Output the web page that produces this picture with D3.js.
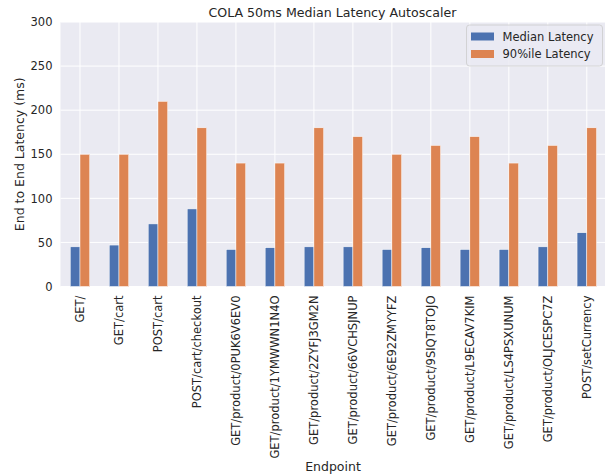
<!DOCTYPE html>
<html><head><meta charset="utf-8">
<script src="https://cdn.jsdelivr.net/npm/d3@7"></script>
<style>body{margin:0;background:#fff}text{font-family:"DejaVu Sans",sans-serif;fill:#262626}</style>
</head><body><svg id="c" width="605" height="476"></svg>
<script>
const categories = ["GET/","GET/cart","POST/cart","POST/cart/checkout","GET/product/0PUK6V6EV0","GET/product/1YMWWN1N4O","GET/product/2ZYFJ3GM2N","GET/product/66VCHSJNUP","GET/product/6E92ZMYYFZ","GET/product/9SIQT8TOJO","GET/product/L9ECAV7KIM","GET/product/LS4PSXUNUM","GET/product/OLJCESPC7Z","POST/setCurrency"];
const medianLatency = [45,47,71,88,42,44,45,45,42,44,42,42,45,61];
const p90Latency = [150,150,210,180,140,140,180,170,150,160,170,140,160,180];
const seriesNames = ["Median Latency","90%ile Latency"];
const colors = ["#4C72B0","#DD8452"];
const yTicks = [0,50,100,150,200,250,300];

const svg = d3.select("#c");
const L=60.5, R=606.3, T=22, B=286.5;
const x = d3.scaleBand().domain(categories).range([L,R]).paddingInner(0.5).paddingOuter(0.25);
const y = d3.scaleLinear().domain([0,300]).range([B,T]);
const step = x.step();
const xc = c => x(c)+x.bandwidth()/2;

svg.append("rect").attr("x",L).attr("y",T).attr("width",R-L).attr("height",B-T).attr("fill","#EAEAF2");
// grid
svg.append("g").selectAll("line").data(yTicks).join("line")
  .attr("x1",L).attr("x2",R).attr("y1",d=>y(d)).attr("y2",d=>y(d)).attr("stroke","#fff").attr("stroke-width",1);
svg.append("g").selectAll("line").data(categories).join("line")
  .attr("x1",d=>xc(d)).attr("x2",d=>xc(d)).attr("y1",T).attr("y2",B).attr("stroke","#fff").attr("stroke-width",1);

const bw = step*0.25;
[medianLatency,p90Latency].forEach((vals,si)=>{
  svg.append("g").selectAll("rect").data(categories).join("rect")
    .attr("x",(d,i)=>xc(d)-bw+si*bw)
    .attr("width",bw)
    .attr("y",(d,i)=>y(vals[i]))
    .attr("height",(d,i)=>B-y(vals[i]))
    .attr("fill",colors[si]).attr("stroke","#fff").attr("stroke-width",0.5);
});

// y axis labels
const yAxis = d3.axisLeft(y).tickValues(yTicks).tickSize(0).tickPadding(8);
const gy = svg.append("g").attr("transform",`translate(${L},0)`).call(yAxis);
gy.select(".domain").remove();
gy.selectAll("text").attr("font-size","11.5px").style("font-family","DejaVu Sans").attr("fill","#262626");

// x axis labels
const xAxis = d3.axisBottom(x).tickSize(0).tickPadding(0);
const gx = svg.append("g").attr("transform",`translate(0,${B})`).call(xAxis);
gx.select(".domain").remove();
gx.selectAll("text").attr("font-size","11.5px").style("font-family","DejaVu Sans").attr("fill","#262626")
  .attr("text-anchor","end").attr("transform","rotate(-90)").attr("x",-9).attr("y",0).attr("dy","0.35em");

svg.append("text").attr("x",(L+R)/2-1).attr("y",17).attr("text-anchor","middle").attr("font-size","12.6px").text("COLA 50ms Median Latency Autoscaler");
svg.append("text").attr("transform",`translate(24,${(T+B)/2}) rotate(-90)`).attr("text-anchor","middle").attr("font-size","12.5px").text("End to End Latency (ms)");
svg.append("text").attr("x",333).attr("y",471).attr("text-anchor","middle").attr("font-size","12.5px").text("Endpoint");

// legend
const lg = svg.append("g");
lg.append("rect").attr("x",466.5).attr("y",25).attr("width",136).attr("height",41).attr("rx",3)
  .attr("fill","#EAEAF2").attr("fill-opacity",0.8).attr("stroke","#cccccc").attr("stroke-width",0.8);
seriesNames.forEach((s,i)=>{
  lg.append("rect").attr("x",471).attr("y",32.5+i*17.5).attr("width",23).attr("height",8).attr("fill",colors[i]);
  lg.append("text").attr("x",502.5).attr("y",40.5+i*17.5).attr("font-size","11.5px").text(s);
});
</script></body></html>
